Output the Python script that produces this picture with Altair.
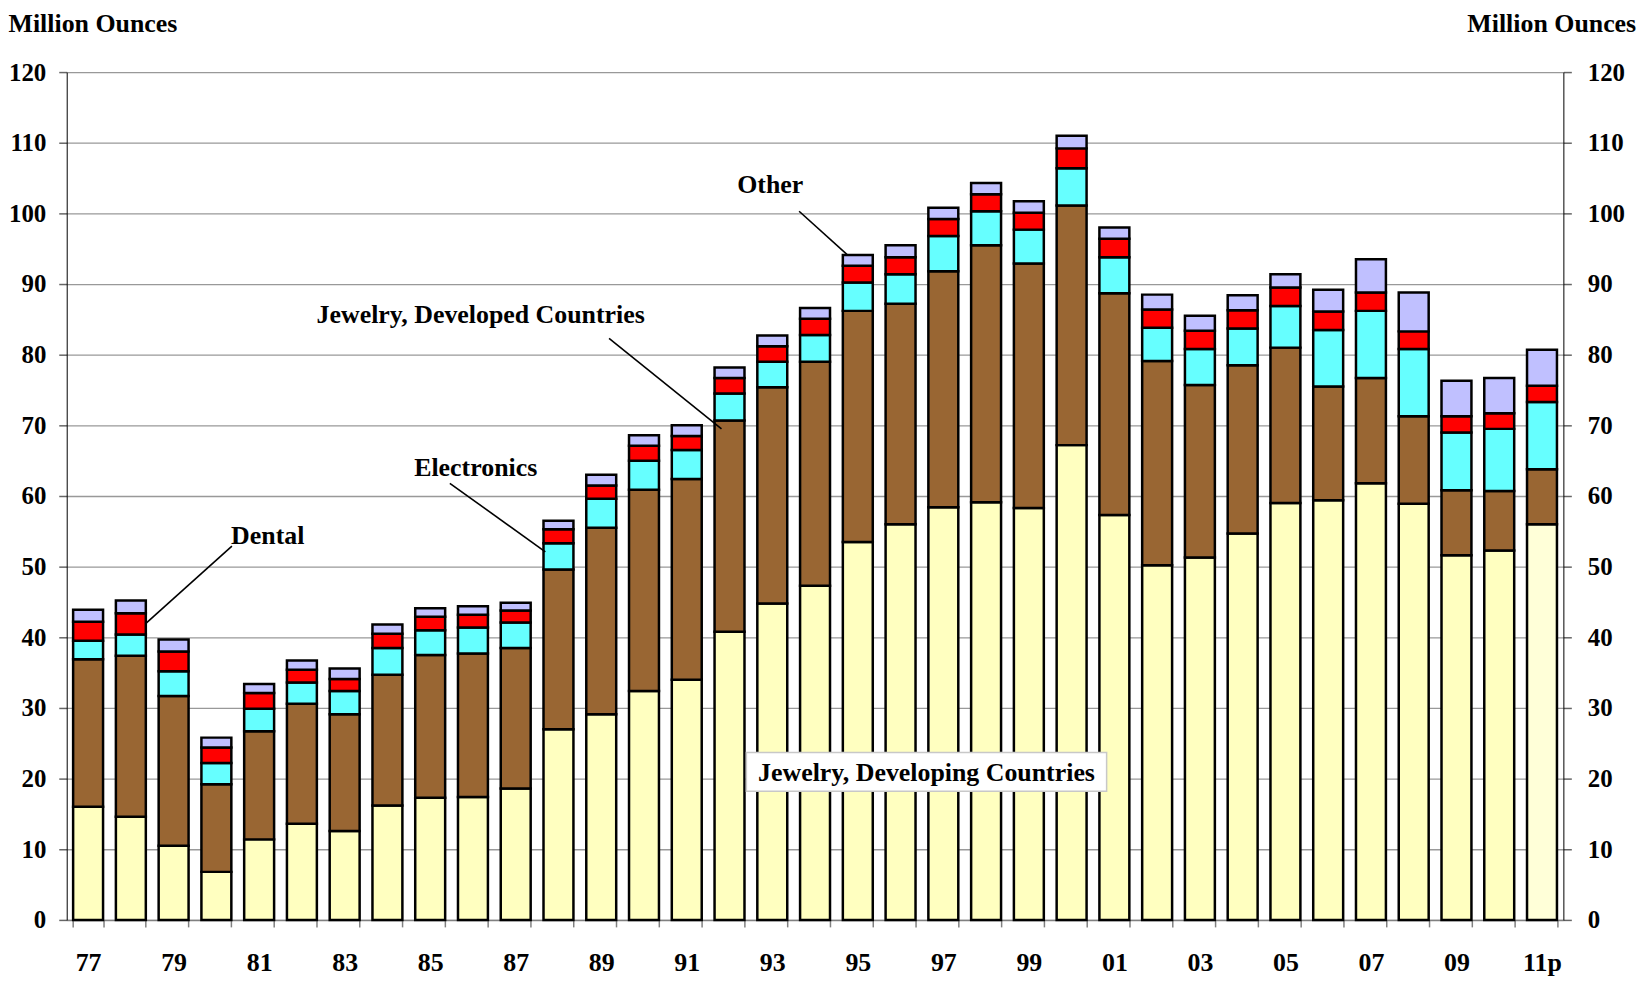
import altair as alt
import pandas as pd

# ---------------- data ----------------
years = ["77", "78", "79", "80", "81", "82", "83", "84", "85", "86", "87", "88",
         "89", "90", "91", "92", "93", "94", "95", "96", "97", "98", "99", "00",
         "01", "02", "03", "04", "05", "06", "07", "08", "09", "10", "11p"]
shown_labels = ["77", "79", "81", "83", "85", "87", "89", "91", "93", "95", "97",
                "99", "01", "03", "05", "07", "09", "11p"]

jewelry_developing = [16.0, 14.6, 10.5, 6.8, 11.4, 13.6, 12.6, 16.2, 17.3, 17.4, 18.6, 27.0,
                      29.1, 32.4, 34.0, 40.8, 44.8, 47.3, 53.5, 56.0, 58.4, 59.1, 58.3, 67.2,
                      57.3, 50.2, 51.3, 54.7, 59.0, 59.4, 61.8, 58.9, 51.6, 52.3, 56.0]
jewelry_developed = [20.9, 22.8, 21.2, 12.4, 15.3, 17.0, 16.5, 18.5, 20.2, 20.3, 19.9, 22.6,
                     26.4, 28.5, 28.4, 29.9, 30.6, 31.7, 32.7, 31.2, 33.4, 36.4, 34.6, 33.9,
                     31.4, 28.9, 24.4, 23.8, 22.0, 16.1, 14.9, 12.4, 9.2, 8.4, 7.8]
electronics = [2.6, 3.0, 3.5, 3.0, 3.2, 3.0, 3.3, 3.8, 3.5, 3.7, 3.6, 3.7,
               4.1, 4.1, 4.1, 3.8, 3.6, 3.8, 4.0, 4.2, 5.0, 4.8, 4.8, 5.3,
               5.1, 4.7, 5.1, 5.2, 5.9, 8.0, 9.5, 9.5, 8.2, 8.8, 9.5]
dental = [2.7, 3.0, 2.8, 2.2, 2.2, 1.8, 1.7, 2.0, 1.9, 1.8, 1.7, 2.0,
          1.9, 2.1, 2.0, 2.2, 2.2, 2.3, 2.4, 2.4, 2.4, 2.4, 2.4, 2.8,
          2.6, 2.6, 2.6, 2.6, 2.6, 2.6, 2.6, 2.5, 2.3, 2.2, 2.3]
other = [1.7, 1.8, 1.7, 1.4, 1.3, 1.3, 1.5, 1.3, 1.2, 1.2, 1.1, 1.2,
         1.5, 1.5, 1.5, 1.5, 1.5, 1.5, 1.5, 1.7, 1.6, 1.6, 1.6, 1.8,
         1.6, 2.1, 2.1, 2.1, 1.9, 3.1, 4.7, 5.5, 5.0, 5.0, 5.1]

series_names = ["Jewelry, Developing Countries", "Jewelry, Developed Countries",
                "Electronics", "Dental", "Other"]
series_values = [jewelry_developing, jewelry_developed, electronics, dental, other]

rows = []
for si, (name, vals) in enumerate(zip(series_names, series_values)):
    for yr, v in zip(years, vals):
        key = name
        if si == 0 and yr.endswith("p"):
            key = name + " (p)"
        rows.append({"year": yr, "series": key, "value": v, "order": si})
df = pd.DataFrame(rows)
totals = pd.DataFrame({"year": years,
                       "total": [sum(v) for v in zip(*series_values)]})

color_domain = ["Jewelry, Developing Countries", "Jewelry, Developing Countries (p)",
                "Jewelry, Developed Countries", "Electronics", "Dental", "Other"]
color_range = ["#FFFFC0", "#FFFFD8", "#996633", "#66FFFF", "#FF0000", "#C0C0FF"]

FONT = "Liberation Serif"
FS = 26
AFS = 25
W, H = 1504, 852

yscale = alt.Scale(domain=[0, 120], nice=False)
label_expr = "indexof(" + str(shown_labels) + ", datum.value) >= 0 ? datum.value : ''"

bars = alt.Chart(df).mark_bar(stroke="black", strokeWidth=2.5).encode(
    x=alt.X("year:N", sort=years,
            scale=alt.Scale(paddingInner=0.3, paddingOuter=0.15),
            axis=alt.Axis(title=None, labelExpr=label_expr, tickBand="extent",
                          ticks=True, tickSize=7, tickColor="#808080", tickWidth=1.5,
                          domainColor="#808080", domainWidth=1.5,
                          labelAngle=0, labelFont=FONT, labelFontSize=FS,
                          labelFontWeight="bold", labelColor="black",
                          labelBaseline="middle", labelPadding=36, grid=False)),
    y=alt.Y("value:Q", stack="zero", scale=yscale,
            axis=alt.Axis(orient="left", values=list(range(0, 121, 10)),
                          title="Million Ounces", titleAngle=0, titleX=-59, titleY=-49,
                          titleAlign="left", titleBaseline="middle", titleFont=FONT,
                          titleFontSize=FS, titleFontWeight="bold", titleColor="black",
                          labelFont=FONT, labelFontSize=AFS, labelFontWeight="bold",
                          labelColor="black", labelPadding=13, tickSize=8,
                          tickColor="#666666", tickWidth=1.5, domainColor="black",
                          domainWidth=1, grid=True, gridColor="#999999", gridWidth=1.3)),
    color=alt.Color("series:N", scale=alt.Scale(domain=color_domain, range=color_range),
                    legend=None),
    order=alt.Order("order:Q"),
)

right_axis = alt.Chart(totals).mark_point(opacity=0).encode(
    x=alt.X("year:N", sort=years),
    y=alt.Y("total:Q", scale=yscale,
            axis=alt.Axis(orient="right", values=list(range(0, 121, 10)),
                          title="Million Ounces", titleAngle=0, titleX=-97, titleY=-49,
                          titleAlign="left", titleBaseline="middle", titleFont=FONT,
                          titleFontSize=FS, titleFontWeight="bold", titleColor="black",
                          labelFont=FONT, labelFontSize=AFS, labelFontWeight="bold",
                          labelColor="black", labelPadding=16, tickSize=8,
                          tickColor="#666666", tickWidth=1.5, domainColor="black",
                          domainWidth=1, grid=False)),
)

# ---------------- annotations ----------------
labels = [
    ("Dental", 202, 54.4),
    ("Electronics", 411, 64.0),
    ("Jewelry, Developed Countries", 416, 85.6),
    ("Other", 707, 104.0),
    ("Jewelry, Developing Countries", 864, 20.8),
]
leaders = [
    (166, 52.9, 79, 41.9),
    (385, 61.8, 481, 52.1),
    (545, 82.3, 658, 69.5),
    (736, 100.3, 784, 94.2),
]

layers = [bars]

box = alt.Chart(pd.DataFrame({"y": [23.7], "y2": [18.2]})).mark_rect(
    fill="white", stroke="#c8c8c8", strokeWidth=1.5).encode(
    x=alt.value(683), x2=alt.value(1045),
    y=alt.Y("y:Q", axis=None, scale=yscale), y2="y2:Q")
layers.append(box)

for x1, y1, x2, y2 in leaders:
    layers.append(alt.Chart(pd.DataFrame({"y": [y1], "y2": [y2]})).mark_rule(
        color="black", strokeWidth=1.6).encode(
        x=alt.value(x1), x2=alt.value(x2),
        y=alt.Y("y:Q", axis=None, scale=yscale), y2="y2:Q"))

for text, px, yv in labels:
    layers.append(alt.Chart(pd.DataFrame({"y": [yv], "t": [text]})).mark_text(
        font=FONT, fontSize=FS, fontWeight="bold", color="black",
        align="center", baseline="middle").encode(
        x=alt.value(px), y=alt.Y("y:Q", axis=None, scale=yscale), text="t:N"))

layers.append(right_axis)

chart = alt.layer(*layers).resolve_axis(y="independent").properties(
    width=W, height=H,
    autosize=alt.AutoSizeParams(type="none"),
    padding={"left": 59, "top": 62, "right": 77, "bottom": 59},
    background="white",
).configure_view(stroke=None)

chart.save("out.html", embed_options={"renderer": "svg", "actions": False})
